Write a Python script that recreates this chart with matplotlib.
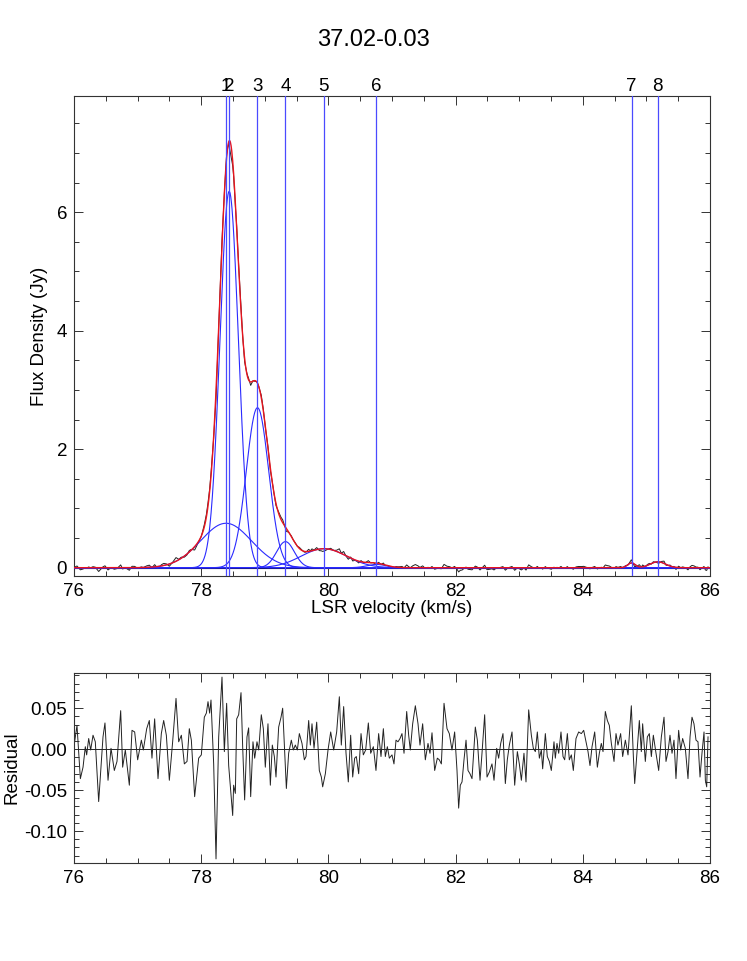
import numpy as np
import matplotlib
matplotlib.use("Agg")
import matplotlib.pyplot as plt
from matplotlib.ticker import MultipleLocator, FuncFormatter
import matplotlib.transforms as mtransforms

plt.rcParams['font.family'] = ['Liberation Sans', 'DejaVu Sans']
plt.rcParams['axes.unicode_minus'] = False

title = "37.02-0.03"

# Gaussian components of the fit
comp_labels = ["1", "2", "3", "4", "5", "6", "7", "8"]
comp_center = [78.39, 78.44, 78.885, 79.325, 79.93, 80.756, 84.766, 85.18]
comp_amp = [0.75, 6.35, 2.70, 0.44, 0.32, 0.055, 0.08, 0.10]
comp_sigma = [0.40, 0.145, 0.176, 0.14, 0.36, 0.15, 0.06, 0.12]

# Residual (data - fit)
res_v = [76.010, 76.047, 76.100, 76.142, 76.178, 76.199, 76.231, 76.262, 76.299, 76.335,
         76.388, 76.456, 76.487, 76.535, 76.582, 76.634, 76.676, 76.734, 76.765, 76.807,
         76.870, 76.912, 76.954, 77.001, 77.059, 77.090, 77.143, 77.184, 77.226, 77.268,
         77.321, 77.373, 77.410, 77.452, 77.499, 77.551, 77.604, 77.646, 77.688, 77.735,
         77.777, 77.813, 77.845, 77.897, 77.960, 78.002, 78.049, 78.081, 78.107, 78.133,
         78.154, 78.196, 78.233, 78.275, 78.327, 78.364, 78.400, 78.432, 78.495,
         78.510, 78.537, 78.558, 78.589, 78.626, 78.652, 78.683, 78.720, 78.746, 78.778,
         78.814, 78.841, 78.877, 78.904, 78.945, 78.977, 79.008, 79.050, 79.087, 79.118,
         79.150, 79.176, 79.218, 79.255, 79.281, 79.312, 79.339, 79.375, 79.417, 79.449,
         79.480, 79.512, 79.543, 79.585, 79.622, 79.648, 79.690, 79.716, 79.742, 79.774,
         79.816, 79.857, 79.889, 79.910, 79.952, 79.994, 80.036, 80.083, 80.130, 80.172,
         80.203, 80.240, 80.277, 80.313, 80.350, 80.382, 80.413, 80.439, 80.476, 80.513,
         80.549, 80.586, 80.628, 80.665, 80.707, 80.748, 80.790, 80.827, 80.864, 80.895,
         80.927, 80.958, 81.000, 81.031,
         81.063, 81.094, 81.126, 81.157, 81.189, 81.231, 81.262, 81.288, 81.325, 81.367,
         81.409, 81.440, 81.482, 81.524, 81.566, 81.597, 81.629, 81.671, 81.713, 81.744,
         81.776, 81.818, 81.865, 81.901, 81.943, 81.985, 82.022, 82.048, 82.074, 82.101,
         82.132, 82.164, 82.195, 82.226, 82.258, 82.310, 82.342, 82.384, 82.415, 82.457,
         82.494, 82.530, 82.572, 82.604, 82.646, 82.677, 82.709, 82.745, 82.782, 82.813,
         82.845, 82.887, 82.929, 82.971, 83.002, 83.034, 83.075, 83.107, 83.149, 83.191,
         83.222, 83.254, 83.285, 83.317, 83.348, 83.369, 83.411, 83.442, 83.474, 83.505,
         83.547,
         83.568, 83.594, 83.621, 83.657, 83.689, 83.715, 83.757, 83.788, 83.820, 83.851,
         83.893, 83.935, 83.977, 84.014, 84.050, 84.082, 84.113, 84.145, 84.187, 84.229,
         84.260, 84.291, 84.318, 84.354, 84.386, 84.417, 84.449, 84.491, 84.522, 84.553,
         84.595, 84.627, 84.669, 84.711, 84.763, 84.795, 84.816, 84.858, 84.889, 84.920,
         84.941, 84.983, 85.015, 85.046, 85.078, 85.109, 85.151, 85.193, 85.235, 85.277,
         85.308, 85.340, 85.371, 85.403, 85.434, 85.465, 85.507, 85.539, 85.570, 85.612,
         85.654, 85.686, 85.717, 85.748, 85.780, 85.811, 85.843, 85.874, 85.906, 85.927,
         85.948, 85.969]
res_y = [0.009, 0.029, -0.036, -0.022, 0.003, -0.007, 0.013, -0.001, 0.017, 0.009,
         -0.064, 0.015, 0.032, -0.038, 0.001, -0.026, -0.015, 0.047, -0.022, -0.001,
         -0.044, 0.023, 0.021, -0.013, 0.011, -0.001, 0.025, 0.035, -0.011, 0.037,
         -0.036, 0.019, 0.035, 0.017, -0.038, 0.009, 0.062, 0.009, 0.017, -0.018,
         -0.015, 0.025, 0.011, -0.058, -0.011, -0.007, 0.039, 0.044, 0.058, 0.044,
         0.060, -0.018, -0.134, 0.015, 0.088, -0.003, 0.056, -0.020, -0.081,
         -0.044, -0.054, 0.037, 0.042, 0.069, 0.003, -0.062, 0.015, 0.026, -0.058,
         0.009, -0.011, 0.009, -0.001, 0.042, 0.025, -0.022, 0.031, -0.044, 0.005,
         -0.009, -0.034, 0.027, 0.039, 0.050, -0.001, -0.048, -0.005, 0.011, -0.001,
         0.005, -0.001, 0.019, 0.007, -0.013, -0.009, 0.035, 0.005, 0.031, 0.001,
         0.033, -0.026, -0.034, -0.046, -0.030, -0.001, 0.021, -0.001, 0.021, 0.064,
         0.005, 0.052, -0.005, -0.040, 0.017, -0.034, -0.011, -0.009, -0.030, 0.019,
         -0.007, -0.001, 0.032, -0.005, 0.003, -0.026, 0.019, -0.009, 0.025, -0.009,
         0.003, -0.011, -0.007, -0.018,
         0.011, 0.009, 0.013, 0.019, -0.005, 0.046, 0.017, -0.001, 0.031, 0.053,
         0.031, 0.005, 0.031, -0.013, 0.007, -0.005, 0.020, -0.026, -0.011, -0.013,
         -0.018, 0.056, 0.025, 0.019, -0.001, 0.021, -0.026, -0.072, -0.044, -0.040,
         -0.013, 0.011, -0.026, -0.030, -0.036, 0.027, 0.011, -0.038, -0.005, 0.042,
         -0.034, -0.028, -0.018, -0.038, 0.001, -0.011, 0.007, 0.019, -0.042, -0.013,
         0.005, 0.021, -0.044, -0.003, -0.018, -0.038, -0.005, -0.040, 0.048, 0.017,
         0.001, -0.003, 0.021, -0.011, -0.001, -0.024, 0.019, -0.009, -0.015, -0.026,
         0.009,
         -0.011, 0.007, -0.005, 0.021, -0.009, -0.013, 0.019, -0.013, -0.007, -0.026,
         0.013, 0.021, 0.019, 0.023, 0.009, -0.003, -0.020, 0.003, 0.021, -0.022,
         -0.005, 0.007, -0.003, 0.046, 0.035, 0.029, 0.007, -0.015, 0.019, 0.005,
         0.019, -0.009, 0.011, -0.007, 0.053, -0.009, -0.042, 0.003, 0.035, -0.003,
         0.031, -0.015, 0.015, 0.019, -0.009, 0.017, -0.005, -0.026, 0.015, 0.039,
         -0.015, -0.003, 0.017, -0.005, 0.011, -0.036, 0.023, -0.001, 0.013, 0.001,
         -0.036, 0.015, 0.039, 0.031, 0.011, 0.009, -0.034, -0.005, 0.021, -0.038,
         -0.046, 0.015]

xlim = (76, 86)
ylim_top = (-0.14, 7.96)
ylim_res = (-0.139, 0.093)


def gauss(x, a, c, s):
    return a * np.exp(-0.5 * ((x - c) / s) ** 2)


vgrid = np.linspace(xlim[0], xlim[1], 2001)
comps = [gauss(vgrid, a, c, s) for a, c, s in zip(comp_amp, comp_center, comp_sigma)]
model = np.sum(comps, axis=0)

rv = np.array(res_v)
ry = np.array(res_y)
model_at_rv = np.sum([gauss(rv, a, c, s) for a, c, s in zip(comp_amp, comp_center, comp_sigma)], axis=0)
spectrum = model_at_rv + ry

W, H = 747, 961
fig = plt.figure(figsize=(W / 100, H / 100), dpi=100)

L, R = 74, 710
ax = fig.add_axes([L / W, 1 - 576 / H, (R - L) / W, 480 / H])
ax2 = fig.add_axes([L / W, 1 - 863 / H, (R - L) / W, 190 / H])

fs = 13.5

# top panel
ax.axhline(0, color='black', lw=0.8, zorder=1)
ax.plot(rv, spectrum, color='#222222', lw=0.7, zorder=2)
for cmp in comps:
    ax.plot(vgrid, cmp, color='#2a2aff', lw=0.8, zorder=3)
ax.plot(vgrid, model, color='#e8141e', lw=1.0, zorder=4)
trans = mtransforms.blended_transform_factory(ax.transData, ax.transAxes)
for lab, c in zip(comp_labels, comp_center):
    ax.axvline(c, color='#4a4aff', lw=0.9, zorder=5)
    ax.text(c, 1.011, lab, transform=trans, ha='center', va='baseline', fontsize=fs)

ax.set_xlim(*xlim)
ax.set_ylim(*ylim_top)
ax.xaxis.set_major_locator(MultipleLocator(2))
ax.xaxis.set_minor_locator(MultipleLocator(0.5))
ax.yaxis.set_major_locator(MultipleLocator(2))
ax.yaxis.set_minor_locator(MultipleLocator(0.5))
ax.xaxis.set_major_formatter(FuncFormatter(lambda v, p: "%d" % round(v)))
ax.yaxis.set_major_formatter(FuncFormatter(lambda v, p: "%d" % round(v)))
ax.set_xlabel("LSR velocity (km/s)", fontsize=fs)
ax.set_ylabel("Flux Density (Jy)", fontsize=fs)
ax.xaxis.set_label_coords(0.5, -0.051)
ax.yaxis.set_label_coords(-0.041, 0.5)

# residual panel
ax2.axhline(0, color='black', lw=0.6, zorder=1)
ax2.plot(rv, ry, color='#222222', lw=0.7, zorder=2)
ax2.set_xlim(*xlim)
ax2.set_ylim(*ylim_res)
ax2.xaxis.set_major_locator(MultipleLocator(2))
ax2.xaxis.set_minor_locator(MultipleLocator(0.5))
ax2.yaxis.set_major_locator(MultipleLocator(0.05))
ax2.yaxis.set_minor_locator(MultipleLocator(0.01))
ax2.xaxis.set_major_formatter(FuncFormatter(lambda v, p: "%d" % round(v)))
ax2.yaxis.set_major_formatter(FuncFormatter(lambda v, p: "%.2f" % v))
ax2.set_ylabel("Residual", fontsize=fs)
ax2.yaxis.set_label_coords(-0.084, 0.5)

for a in (ax, ax2):
    a.tick_params(which='both', direction='in', top=True, right=True, labelsize=fs,
                  width=0.7, color='#333333')
    a.tick_params(which='major', length=6.5, pad=5)
    a.tick_params(which='minor', length=3.5)
    for sp in a.spines.values():
        sp.set_linewidth(0.8)
        sp.set_color('#333333')

fig.text(0.5, 1 - 40 / H, title, ha='center', va='center', fontsize=17)

fig.savefig("out.png", dpi=100)
